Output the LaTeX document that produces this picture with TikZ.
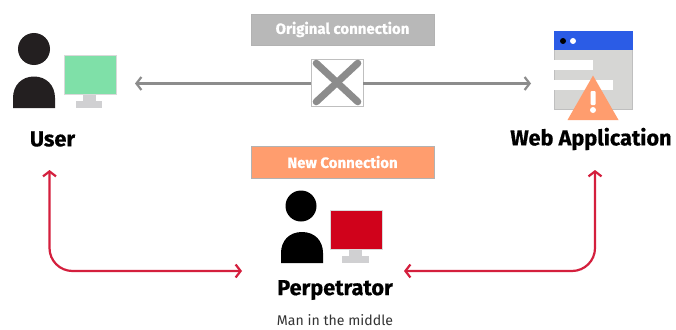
\documentclass[tikz,border=0pt]{standalone}
\usepackage{fontspec}
\setmainfont{Fira Sans}[BoldFeatures={FakeBold=0.6}]
\usetikzlibrary{arrows.meta,calc}
\definecolor{bargray}{HTML}{B8B8B8}
\definecolor{linegray}{HTML}{8C8C8C}
\definecolor{peach}{HTML}{FF9D6E}
\definecolor{mint}{HTML}{7FE0A8}
\definecolor{standgray}{HTML}{D0D0D2}
\definecolor{winblue}{HTML}{2B5CE6}
\definecolor{wingray}{HTML}{D6D6D4}
\definecolor{crimson}{HTML}{D0021B}
\definecolor{redarrow}{HTML}{D41F3D}
\definecolor{inkdark}{HTML}{231F20}
\tikzset{
  banner/.style={draw=black!30,line width=.6pt,minimum width=183pt,inner sep=0pt,text=white,font=\fontsize{15}{16}\selectfont\bfseries},
  lbl/.style={font=\fontsize{21.7}{24}\selectfont\bfseries,text=black,inner sep=0pt},
  sublbl/.style={font=\fontsize{14.1}{16}\selectfont,text=black!80,inner sep=0pt},
  screen/.style={draw=black!15,line width=.5pt,minimum width=52pt,minimum height=39pt,inner sep=0pt},
  grayline/.style={draw=linegray,line width=2.2pt,-{Straight Barb[length=5pt,width=13pt,line width=2.2pt]}},
  redline/.style={draw=redarrow,line width=2.2pt,rounded corners=23pt,{Straight Barb[length=5pt,width=13pt,line width=2.2pt]}-{Straight Barb[length=5pt,width=13pt,line width=2.2pt]}},
}
\begin{document}
\begin{tikzpicture}[x=1pt,y=-1pt]
\useasboundingbox[fill=white] (0,0) rectangle (676,329);
% banners
\node[banner,fill=bargray,minimum height=31pt] (orig) at (342.5,29.5) {Original connection};
\node[banner,fill=peach,minimum height=32pt] (newc) at (342.5,162) {New Connection};
% user
\fill[inkdark] (34,49) circle (16);
\fill[inkdark] (13,108) -- (13,98) .. controls (13,85) and (22,76.5) .. (34,76.5) .. controls (46,76.5) and (55,85) .. (55,98) -- (55,108) -- cycle;
\fill[standgray] (83,94) rectangle (96,101);
\fill[standgray] (76,101) rectangle (102,108);
\node[screen,fill=mint] (usermon) at (90,74.5) {};
\node[lbl] (user) at (52.5,139) {User};
% blocked cross
\node[draw=black!25,line width=.6pt,fill=white,minimum width=52pt,minimum height=47pt,inner sep=0pt] (cross) at (337,82.5) {};
\draw[linegray,line width=7pt,line cap=round] ($(cross.north west)+(5.5,4.5)$) -- ($(cross.south east)+(-5.5,-4.5)$);
\draw[linegray,line width=7pt,line cap=round] ($(cross.north east)+(-5.5,4.5)$) -- ($(cross.south west)+(5.5,-4.5)$);
% web application
\fill[wingray] (554,31) rectangle (632.5,109);
\draw[black!25,line width=.5pt] (554,31) rectangle (632.5,109);
\fill[winblue] (554,31) rectangle (632.5,50);
\fill[black] (563,41) circle (3);
\fill[white] (573,41) circle (3);
\fill[white] (554,60) rectangle (593,70);
\fill[white] (554,80) rectangle (613,90);
\fill[peach] (593,75.5) -- (618.5,120) -- (567.5,120) -- cycle;
\fill[white,rounded corners=1pt] (590.5,91) rectangle (595.5,105);
\fill[white] (593,110) circle (3);
\node[lbl] (web) at (591,139) {Web Application};
% perpetrator
\fill[black] (301,206) circle (15.5);
\fill[black] (281,263) -- (281,253) .. controls (281,241) and (289,232) .. (302,232) .. controls (315,232) and (323,241) .. (323,253) -- (323,263) -- cycle;
\fill[standgray] (349,249) rectangle (362,256);
\fill[standgray] (342,256) rectangle (369,263);
\node[screen,fill=crimson] (perpmon) at (356.5,229.5) {};
\node[lbl] (perp) at (335,290) {Perpetrator};
\node[sublbl] (mitm) at (335,320.5) {Man in the middle};
% connectors
\coordinate (userport) at (135,83.5);
\coordinate (webend) at (531,83.5);
\draw[grayline] (cross.west |- userport) -- (userport);
\draw[grayline] (cross.east |- webend) -- (webend);
\coordinate (userup) at (49.5,170);
\coordinate (perpleft) at (242,271);
\coordinate (webup) at (595,170);
\coordinate (perpright) at (404,271);
\draw[redline] (userup) -- (userup |- perpleft) -- (perpleft);
\draw[redline] (webup) -- (webup |- perpright) -- (perpright);
\end{tikzpicture}
\end{document}
